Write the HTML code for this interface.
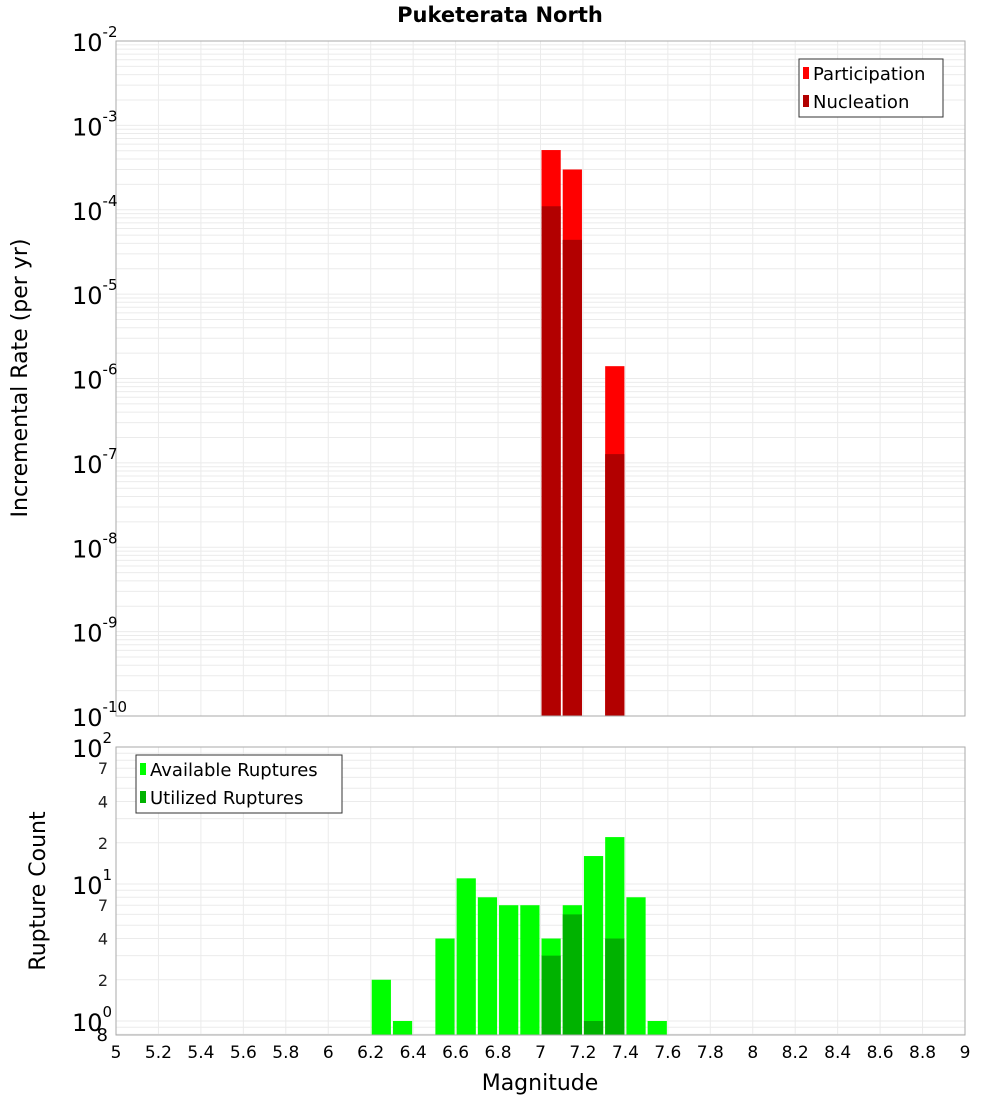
<!DOCTYPE html>
<html><head><meta charset="utf-8"><style>
body{margin:0;background:#fff;font-family:"DejaVu Sans","Liberation Sans",sans-serif;}
svg text{font-family:"DejaVu Sans","Liberation Sans",sans-serif;}
</style></head><body>
<svg id="chart" width="1000" height="1100" xmlns="http://www.w3.org/2000/svg">
<text x="500" y="22" text-anchor="middle" font-size="21" font-weight="bold">Puketerata North</text>
<g id="topPlot"></g><g id="botPlot"></g>
<text transform="translate(27,378) rotate(-90)" text-anchor="middle" font-size="22">Incremental Rate (per yr)</text>
<text transform="translate(45,891) rotate(-90)" text-anchor="middle" font-size="22">Rupture Count</text>
<text x="540" y="1090" text-anchor="middle" font-size="22">Magnitude</text>
</svg>
<script>
const binCenters=[6.25,6.35,6.55,6.65,6.75,6.85,6.95,7.05,7.15,7.25,7.35,7.45,7.55];
const availableCounts=[2,1,4,11,8,7,7,4,7,16,22,8,1];
const utilizedMags=[7.05,7.15,7.25,7.35];
const utilizedCounts=[3,6,1,4];
const rateMags=[7.05,7.15,7.35];
const participationRates=[5.1e-4,3.0e-4,1.4e-6];
const nucleationRates=[1.1e-4,4.4e-5,1.27e-7];
const xTicks=[5,5.2,5.4,5.6,5.8,6,6.2,6.4,6.6,6.8,7,7.2,7.4,7.6,7.8,8,8.2,8.4,8.6,8.8,9];
const xTickLabels=["5","5.2","5.4","5.6","5.8","6","6.2","6.4","6.6","6.8","7","7.2","7.4","7.6","7.8","8","8.2","8.4","8.6","8.8","9"];
const topDecades=[-2,-3,-4,-5,-6,-7,-8,-9,-10];
const botDecades=[2,1,0];
const botMinorLabels=[2,4,7];

const NS="http://www.w3.org/2000/svg";
const L=116,R=965;
const X=v=>L+(v-5)/4*(R-L);
const TT=41,TB=716;
const YT=v=>TB-(Math.log10(v)+10)/8*(TB-TT);
const BT=747,B0=1021,BB=1035;
const YB=v=>B0-Math.log10(v)*(B0-BT)/2;
function mk(p,tag,a,txt){const e=document.createElementNS(NS,tag);for(const k in a)e.setAttribute(k,a[k]);if(txt!==undefined)e.textContent=txt;p.appendChild(e);return e;}
const topG=document.getElementById('topPlot'),botG=document.getElementById('botPlot');

for(let d=-10;d<-2;d++)for(let m=1;m<10;m++){const y=YT(m*Math.pow(10,d));const l=mk(topG,'line',{x1:L,x2:R,y1:y,y2:y,stroke:'#ebebeb','stroke-width':1});

}
xTicks.forEach(t=>{const l=mk(topG,'line',{x1:X(t),x2:X(t),y1:TT,y2:TB,stroke:'#ebebeb'});

});
rateMags.forEach((m,i)=>{
 const x=X(m-0.05)+1,w=X(m+0.05)-X(m-0.05)-2;
 const p=mk(topG,'rect',{x:x,y:YT(participationRates[i]),width:w,height:TB-YT(participationRates[i]),fill:'#ff0000'});
 
 
 const n=mk(topG,'rect',{x:x,y:YT(nucleationRates[i]),width:w,height:TB-YT(nucleationRates[i]),fill:'#b20000'});
 
 
});
const tb=mk(topG,'rect',{x:L,y:TT,width:R-L,height:TB-TT,fill:'none',stroke:'#aaa'});


topDecades.forEach(d=>{const y=YT(Math.pow(10,d));const t=mk(topG,'text',{x:72,y:y+10,'font-size':24});


mk(t,'tspan',{},'10');mk(t,'tspan',{dy:-14,'font-size':15},String(d));});
const lg=mk(topG,'g',{});


mk(lg,'rect',{x:799,y:59,width:144,height:58,fill:'#fff',stroke:'#333'});
mk(lg,'rect',{x:803,y:67,width:6,height:12,fill:'#ff0000'});
mk(lg,'text',{x:813,y:80,'font-size':18},'Participation');
mk(lg,'rect',{x:803,y:95,width:6,height:12,fill:'#b20000'});
mk(lg,'text',{x:813,y:108,'font-size':18},'Nucleation');

for(let d=-1;d<2;d++)for(let m=1;m<10;m++){const v=m*Math.pow(10,d);const y=YB(v);if(y>BB||y<BT)continue;const l=mk(botG,'line',{x1:L,x2:R,y1:y,y2:y,stroke:'#ebebeb'});

}
xTicks.forEach(t=>{const l=mk(botG,'line',{x1:X(t),x2:X(t),y1:BT,y2:BB,stroke:'#ebebeb'});

});
binCenters.forEach((m,i)=>{const x=X(m-0.05)+1,w=X(m+0.05)-X(m-0.05)-2;const y=YB(availableCounts[i]);
const r=mk(botG,'rect',{x:x,y:y,width:w,height:BB-y,fill:'#00ff00'});

});
utilizedMags.forEach((m,i)=>{const x=X(m-0.05)+1,w=X(m+0.05)-X(m-0.05)-2;const y=YB(utilizedCounts[i]);
const r=mk(botG,'rect',{x:x,y:y,width:w,height:BB-y,fill:'#00b200'});

});
const bb=mk(botG,'rect',{x:L,y:BT,width:R-L,height:BB-BT,fill:'none',stroke:'#aaa'});


botDecades.forEach(d=>{const y=YB(Math.pow(10,d));const t=mk(botG,'text',{x:72,y:y+10,'font-size':24});


mk(t,'tspan',{},'10');mk(t,'tspan',{dy:-14,'font-size':15},String(d));});
[0,1].forEach(d=>botMinorLabels.forEach(m=>{const y=YB(m*Math.pow(10,d));const t=mk(botG,'text',{x:108,y:y+6,'font-size':16,'text-anchor':'end',fill:'#222'},String(m));

}));
const e8=mk(botG,'text',{x:108,y:1041,'font-size':18,'text-anchor':'end'},'8');


xTicks.forEach((t,i)=>{const e=mk(botG,'text',{x:X(t),y:1058,'font-size':17,'text-anchor':'middle'},xTickLabels[i]);

});
const bl=mk(botG,'g',{});


mk(bl,'rect',{x:136,y:755,width:206,height:58,fill:'#fff',stroke:'#333'});
mk(bl,'rect',{x:140,y:763,width:6,height:12,fill:'#00ff00'});
mk(bl,'text',{x:150,y:776,'font-size':18},'Available Ruptures');
mk(bl,'rect',{x:140,y:791,width:6,height:12,fill:'#00b200'});
mk(bl,'text',{x:150,y:804,'font-size':18},'Utilized Ruptures');
</script>
</body></html>
